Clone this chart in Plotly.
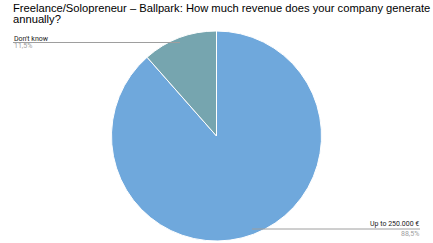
import plotly.graph_objects as go

categories = ["Up to 250.000 €", "Don't know"]
values = [88.5, 11.5]
colors = ["#6fa8dc", "#76a5af"]
title_lines = ["Freelance/Solopreneur – Ballpark: How much revenue does your company generate",
               "annually?"]

W, H = 433, 243

fig = go.Figure(go.Pie(
    labels=categories, values=values, sort=False, direction="clockwise", rotation=0,
    marker=dict(colors=colors, line=dict(color="white", width=1)),
    textinfo="none", hoverinfo="label+percent", showlegend=False,
    domain=dict(x=[0, 1], y=[2 / H, 212 / H]),
))

def pct(v):
    return f"{v:.1f}".replace(".", ",") + "%"

def px(x):
    return x / W

def py(y):
    return 1 - y / H

annotations = []
for k, line in enumerate(title_lines):
    annotations.append(dict(x=px(12), y=py(7.5 + 11 * k), xref="paper", yref="paper", xanchor="left",
                            yanchor="middle", align="left", text=line, showarrow=False, borderpad=0,
                            font=dict(family="Arial", size=11.2, color="#000000")))

label_specs = [
    # (category index, text x, anchor, label y, line y, pct y, line x0, line x1)
    (1, 13, "left", 39, 42.5, 46, 13, 180),
    (0, 420, "right", 224, 229, 234, 252, 420),
]
shapes = []
for i, tx, anchor, ly, liney, pcy, x0, x1 in label_specs:
    annotations.append(dict(x=px(tx), y=py(ly), xref="paper", yref="paper", xanchor=anchor, yanchor="middle",
                            text=categories[i], showarrow=False, borderpad=0,
                            font=dict(family="Roboto", size=7, color="#222222")))
    annotations.append(dict(x=px(tx), y=py(pcy), xref="paper", yref="paper", xanchor=anchor, yanchor="middle",
                            text=pct(values[i]), showarrow=False, borderpad=0,
                            font=dict(family="Roboto", size=7, color="#9e9e9e")))
    shapes.append(dict(type="line", xref="paper", yref="paper", x0=px(x0), x1=px(x1), y0=py(liney), y1=py(liney),
                       line=dict(color="#9e9e9e", width=1), layer="above"))

fig.update_layout(
    width=W, height=H, margin=dict(l=0, r=0, t=0, b=0),
    paper_bgcolor="white", plot_bgcolor="white",
    annotations=annotations, shapes=shapes,
)

fig.write_html("out.html")
